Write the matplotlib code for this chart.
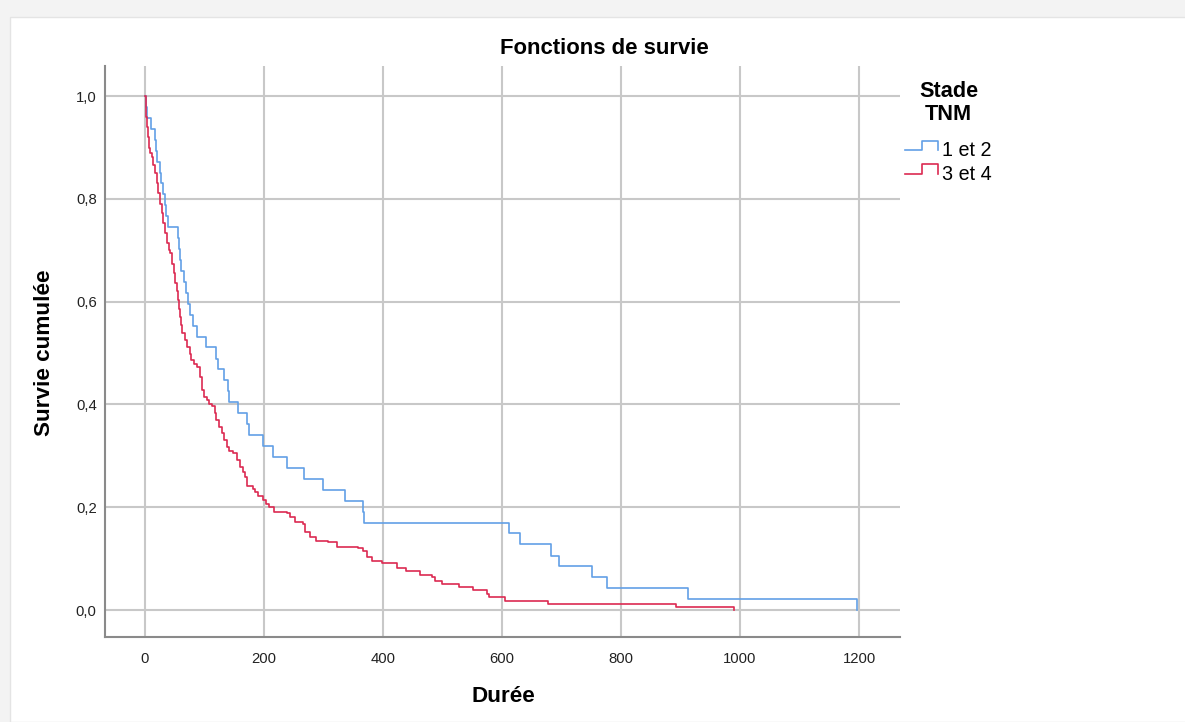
import matplotlib
matplotlib.use("Agg")
import matplotlib.pyplot as plt
from matplotlib.lines import Line2D
from matplotlib.patches import Rectangle
from matplotlib.legend_handler import HandlerBase

plt.rcParams['font.family'] = ['Liberation Sans', 'DejaVu Sans']

# ---------------- data ----------------
title = "Fonctions de survie"
x_label = "Durée"
y_label = "Survie cumulée"
legend_title = "Stade\nTNM"
group_labels = ["1 et 2", "3 et 4"]

x_ticks = [0, 200, 400, 600, 800, 1000, 1200]
y_ticks = [0.0, 0.2, 0.4, 0.6, 0.8, 1.0]
y_ticklabels = ["0,0", "0,2", "0,4", "0,6", "0,8", "1,0"]

# Stade 1 et 2
time_g1 = [0, 1, 3, 10, 17, 18, 20, 26, 27, 31, 33, 35, 39, 55, 57, 59, 61, 66,
           69, 73, 75, 80, 88, 103, 120, 122, 132, 139, 141, 156, 171, 174, 199,
           215, 238, 268, 300, 336, 366, 368, 612, 630, 683, 695, 751, 777, 913, 1197]
surv_g1 = [1.000, 0.979, 0.957, 0.936, 0.915, 0.894, 0.872, 0.851, 0.830, 0.809,
           0.787, 0.766, 0.745, 0.723, 0.702, 0.681, 0.660, 0.638, 0.617, 0.596,
           0.574, 0.553, 0.532, 0.511, 0.489, 0.468, 0.447, 0.426, 0.404, 0.383,
           0.362, 0.340, 0.319, 0.298, 0.277, 0.255, 0.234, 0.213, 0.191, 0.170,
           0.149, 0.128, 0.106, 0.085, 0.064, 0.043, 0.021, 0.000]

# Stade 3 et 4
time_g2 = [0, 1, 2, 3, 5, 7, 9, 11, 14, 17, 20, 22, 25, 28, 31, 34, 37, 40, 42,
           45, 48, 50, 53, 56, 58, 59, 61, 63, 67, 71, 75, 78, 83, 87, 92, 95,
           100, 104, 108, 112, 117, 120, 125, 129, 133, 137, 142, 148, 154, 160,
           165, 168, 171, 182, 185, 190, 199, 204, 209, 216, 238, 244, 252, 266,
           269, 277, 288, 308, 322, 358, 367, 373, 381, 398, 423, 439, 462, 482,
           487, 500, 527, 552, 575, 579, 605, 678, 892, 990]
surv_g2 = [1.000, 0.985, 0.960, 0.940, 0.920, 0.898, 0.890, 0.882, 0.865, 0.850,
           0.830, 0.811, 0.790, 0.772, 0.752, 0.733, 0.715, 0.700, 0.694, 0.674,
           0.655, 0.636, 0.620, 0.603, 0.585, 0.571, 0.555, 0.538, 0.525, 0.512,
           0.498, 0.486, 0.478, 0.473, 0.454, 0.428, 0.415, 0.409, 0.400, 0.396,
           0.383, 0.370, 0.357, 0.344, 0.330, 0.318, 0.310, 0.305, 0.292, 0.279,
           0.268, 0.259, 0.242, 0.236, 0.230, 0.222, 0.214, 0.207, 0.201, 0.191,
           0.188, 0.180, 0.172, 0.168, 0.152, 0.143, 0.135, 0.133, 0.123, 0.120,
           0.114, 0.104, 0.096, 0.091, 0.082, 0.075, 0.069, 0.064, 0.057, 0.051,
           0.044, 0.038, 0.031, 0.025, 0.018, 0.012, 0.006, 0.000]

color_g1 = "#62a0e6"
color_g2 = "#dc2a52"


class StepHandler(HandlerBase):
    def create_artists(self, legend, orig_handle, xdescent, ydescent,
                       width, height, fontsize, trans):
        x0, y0 = -xdescent, -ydescent
        xm = x0 + 0.52 * width
        lo, hi = y0 + 0.45 * height, y0 + 1.15 * height
        xs = [x0, xm, xm, x0 + width, x0 + width]
        ys = [lo, lo, hi, hi, lo]
        ln = Line2D(xs, ys, color=orig_handle.get_color(),
                    lw=orig_handle.get_linewidth())
        ln.set_transform(trans)
        return [ln]


W, H = 1185, 722
fig = plt.figure(figsize=(W / 100, H / 100), dpi=100)
fig.patch.set_facecolor("#f3f3f3")
card = Rectangle((10 / W, 0), 1, 1 - 17 / H, transform=fig.transFigure,
                 facecolor="white", edgecolor="#e4e4e4", lw=1.0, zorder=-10)
fig.patches.append(card)

ax = fig.add_axes([105 / W, 1 - 637 / H, (900 - 105) / W, (637 - 66) / H])
ax.set_zorder(1)
ax.set_facecolor("white")

l1, = ax.step(time_g1, surv_g1, where="post", color=color_g1, lw=1.2,
              label=group_labels[0], zorder=3)
l2, = ax.step(time_g2, surv_g2, where="post", color=color_g2, lw=1.2,
              label=group_labels[1], zorder=3)

ax.set_xlim(-67.2, 1268.9)
ax.set_ylim(-0.0525, 1.0584)
ax.set_xticks(x_ticks)
ax.set_xticklabels([str(v) for v in x_ticks])
ax.set_yticks(y_ticks)
ax.set_yticklabels(y_ticklabels)
ax.grid(True, color="#c8c8c8", lw=1.5, zorder=1)
ax.set_axisbelow(True)
ax.tick_params(axis="both", length=0, labelsize=10.7, colors="#222222")
ax.tick_params(axis="x", pad=10.5)
ax.tick_params(axis="y", pad=6)
for s in ["top", "right"]:
    ax.spines[s].set_visible(False)
for s in ["left", "bottom"]:
    ax.spines[s].set_color("#8a8a8a")
    ax.spines[s].set_linewidth(1.5)

fig.text(604 / W, 1 - 49 / H, title, ha="center", va="center",
         fontsize=15.9, fontweight="bold")
fig.text(503 / W, 1 - 697 / H, x_label, ha="center", va="center",
         fontsize=16.2, fontweight="bold")
fig.text(45 / W, 1 - 353 / H, y_label, ha="center", va="center",
         rotation=90, fontsize=16.2, fontweight="bold")

leg = fig.legend(handles=[l1, l2], labels=group_labels, title=legend_title,
                 loc="upper left", bbox_to_anchor=(891 / W, 1 - 67 / H),
                 frameon=False, fontsize=14.2,
                 title_fontproperties={"weight": "bold", "size": 15.6},
                 handler_map={Line2D: StepHandler()},
                 handlelength=1.7, handletextpad=0.2, labelspacing=0.22,
                 borderpad=0.2)
leg._legend_box.align = "center"
leg._legend_box.sep = 12.0
leg.get_title().set_multialignment("center")
leg.get_title().set_linespacing(1.12)

fig.savefig("out.png", dpi=100, facecolor=fig.get_facecolor())
